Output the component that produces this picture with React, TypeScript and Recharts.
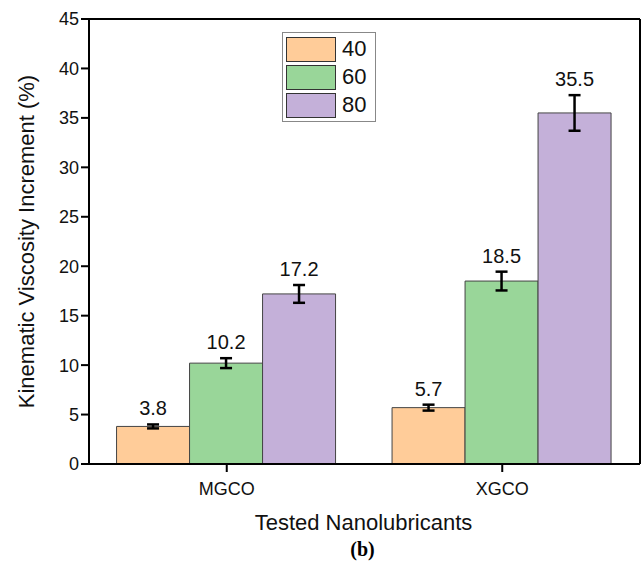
import React from 'react';
import { BarChart, Bar, XAxis, YAxis, ErrorBar, LabelList } from 'recharts';

// data
const categories = ['MGCO', 'XGCO'];
const series = ['40', '60', '80'];
const values40 = [3.8, 5.7];
const values60 = [10.2, 18.5];
const values80 = [17.2, 35.5];
const err40 = [0.2, 0.3];
const err60 = [0.5, 0.95];
const err80 = [0.9, 1.8];
const yTicks = [0, 5, 10, 15, 20, 25, 30, 35, 40, 45];

const colors = ['#FFCC99', '#99D699', '#C4B0D9'];
const font = 'Arial, "Liberation Sans", sans-serif';

const data = categories.map((name, i) => ({
    name,
    v40: values40[i],
    v60: values60[i],
    v80: values80[i],
    e40: err40[i],
    e60: err60[i],
    e80: err80[i],
}));

const labelFor = (errs) => (props) => {
    const { x, y, width, height, value, index } = props;
    const perUnit = height / value;
    const top = y - errs[index] * perUnit;
    return (
        <text x={x + width / 2} y={top - 9} textAnchor="middle" fontSize={20} fontFamily={font} fill="#111">
            {value}
        </text>
    );
};

const LegendBox = () => (
    <div style={{ position: 'absolute', left: 282, top: 32, border: '1.5px solid #888', padding: '2px 3px',
        background: '#fff', fontFamily: font }}>
        {series.map((s, i) => (
            <div key={s} style={{ display: 'flex', alignItems: 'center', height: 28 }}>
                <div style={{ width: 50, height: 25, background: colors[i], border: '1px solid #333', boxSizing: 'border-box' }} />
                <span style={{ marginLeft: 6, fontSize: 22, color: '#111', marginRight: 6 }}>{s}</span>
            </div>
        ))}
    </div>
);

export default function App() {
    return (
        <div style={{ position: 'absolute', left: 0, top: 0, background: '#fff' }}>
            <BarChart width={642} height={574} data={data} margin={{ top: 18, right: 1, left: 0, bottom: 80 }}
                barCategoryGap="10%" barGap={0}>
                <XAxis dataKey="name" axisLine={{ stroke: '#000', strokeWidth: 2 }} tickLine={{ stroke: '#000', strokeWidth: 2 }}
                    tickSize={8} height={30} tick={{ fontSize: 18, fontFamily: font, fill: '#111', dy: 8 }}
                    label={({ viewBox }) => {
                        const cx = viewBox.x + viewBox.width / 2;
                        return (
                            <g>
                                <text x={cx - 1} y={530} textAnchor="middle" fontSize={22} fontFamily={font} fill="#111">Tested Nanolubricants</text>
                                <text x={cx - 2} y={556} textAnchor="middle" fontSize={20} fontWeight="bold" fontFamily='"Liberation Serif", "Times New Roman", serif' fill="#000">(b)</text>
                            </g>
                        );
                    }} />
                <XAxis xAxisId="top" orientation="top" dataKey="name" height={1} tick={false} tickLine={false}
                    axisLine={{ stroke: '#000', strokeWidth: 2 }} />
                <YAxis domain={[0, 45]} ticks={yTicks} width={89} axisLine={{ stroke: '#000', strokeWidth: 2 }}
                    tickLine={{ stroke: '#000', strokeWidth: 2 }} tickSize={8} interval={0}
                    tick={{ fontSize: 18, fontFamily: font, fill: '#111' }}
                    label={({ viewBox }) => (
                        <text x={0} y={0} transform={`translate(34, ${viewBox.y + viewBox.height / 2}) rotate(-90)`}
                            textAnchor="middle" fontSize={22} fontFamily={font} fill="#111">
                            Kinematic Viscosity Increment (%)
                        </text>
                    )} />
                <YAxis yAxisId="right" orientation="right" domain={[0, 45]} width={1} tick={false} tickLine={false}
                    axisLine={{ stroke: '#000', strokeWidth: 2 }} />
                <Bar dataKey="v40" name="40" fill={colors[0]} stroke="#444" strokeWidth={1} isAnimationActive={false}>
                    <ErrorBar dataKey="e40" direction="y" width={6} stroke="#000" strokeWidth={2.5} />
                    <LabelList dataKey="v40" content={labelFor(err40)} />
                </Bar>
                <Bar dataKey="v60" name="60" fill={colors[1]} stroke="#444" strokeWidth={1} isAnimationActive={false}>
                    <ErrorBar dataKey="e60" direction="y" width={6} stroke="#000" strokeWidth={2.5} />
                    <LabelList dataKey="v60" content={labelFor(err60)} />
                </Bar>
                <Bar dataKey="v80" name="80" fill={colors[2]} stroke="#444" strokeWidth={1} isAnimationActive={false}>
                    <ErrorBar dataKey="e80" direction="y" width={6} stroke="#000" strokeWidth={2.5} />
                    <LabelList dataKey="v80" content={labelFor(err80)} />
                </Bar>
            </BarChart>
            <LegendBox />
        </div>
    );
}
